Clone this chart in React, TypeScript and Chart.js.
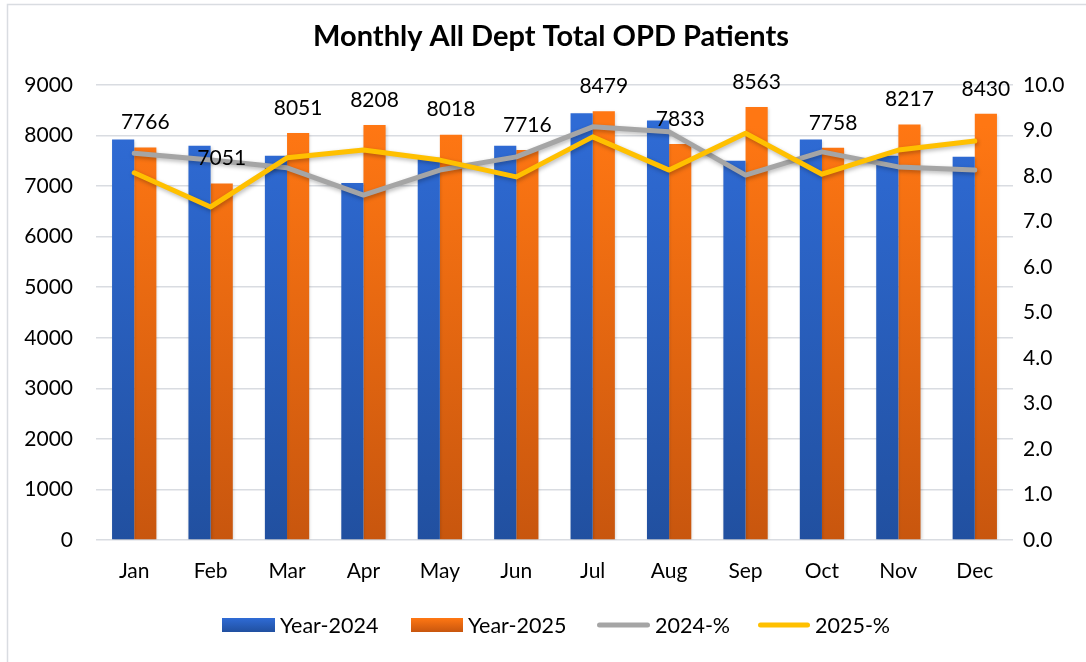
import React, { useEffect, useRef } from "react";
import { Chart, registerables } from "chart.js";

Chart.register(...registerables);

const categories = ["Jan", "Feb", "Mar", "Apr", "May", "Jun", "Jul", "Aug", "Sep", "Oct", "Nov", "Dec"];
const opd2024 = [7920, 7800, 7600, 7060, 7560, 7800, 8440, 8300, 7500, 7920, 7600, 7580];
const opd2025 = [7766, 7051, 8051, 8208, 8018, 7716, 8479, 7833, 8563, 7758, 8217, 8430];
const pct2024 = [8.5, 8.35, 8.18, 7.58, 8.13, 8.42, 9.08, 8.97, 8.02, 8.53, 8.2, 8.13];
const pct2025 = [8.07, 7.32, 8.4, 8.57, 8.35, 7.98, 8.86, 8.13, 8.94, 8.04, 8.57, 8.77];
const legendLabels = ["Year-2024", "Year-2025", "2024-%", "2025-%"];
const titleText = "Monthly All Dept Total OPD Patients";

const FONT = "Lato, 'Open Sans', sans-serif";

function grad(ctx: any, top: string, bottom: string) {
  const chart = ctx.chart;
  const a = chart.chartArea;
  if (!a) return top;
  const g = chart.ctx.createLinearGradient(0, a.top + 40, 0, a.bottom);
  g.addColorStop(0, top);
  g.addColorStop(1, bottom);
  return g;
}

const decorPlugin = {
  id: "decor",
  beforeDraw(chart: any) {
    const c = chart.ctx;
    c.save();
    c.fillStyle = "#ffffff";
    c.fillRect(0, 0, chart.width, chart.height);
    c.strokeStyle = "#D9DCE1";
    c.lineWidth = 1.5;
    c.strokeRect(7.5, 4.5, chart.width + 20, chart.height + 20);
    c.restore();
  },
  beforeDatasetDraw(chart: any, args: any) {
    const c = chart.ctx;
    c.save();
    if (args.meta.type === "line") {
      c.shadowColor = "rgba(0,0,0,0.28)";
      c.shadowBlur = 4;
      c.shadowOffsetX = 1;
      c.shadowOffsetY = 2;
    } else {
      c.shadowColor = "rgba(0,0,0,0.18)";
      c.shadowBlur = 3;
      c.shadowOffsetX = 1;
      c.shadowOffsetY = 1;
    }
  },
  afterDatasetDraw(chart: any) {
    chart.ctx.restore();
  },
  afterDraw(chart: any) {
    const c = chart.ctx;
    c.save();
    // title
    c.fillStyle = "#000";
    c.font = `bold 29px ${FONT}`;
    c.textAlign = "center";
    c.textBaseline = "middle";
    c.fillText(titleText, 551, 37);

    // data labels above orange bars
    const meta = chart.getDatasetMeta(1);
    c.font = `21px ${FONT}`;
    c.fillStyle = "#000";
    meta.data.forEach((bar: any, i: number) => {
      c.fillText(String(opd2025[i]), bar.x, bar.y - 25);
    });

    // legend
    const y = 625;
    c.textAlign = "left";
    c.font = `21.5px ${FONT}`;
    const items = [
      { x: 222, w: 53, tx: 280, kind: "bar", top: "#2F6BD5", bottom: "#2150A0" },
      { x: 411, w: 52, tx: 468, kind: "bar", top: "#FF7713", bottom: "#C8560E" },
      { x: 597, w: 53, tx: 655, kind: "line", color: "#A5A5A5" },
      { x: 758, w: 52, tx: 815, kind: "line", color: "#FFC000" },
    ];
    items.forEach((it: any, i: number) => {
      if (it.kind === "bar") {
        const g = c.createLinearGradient(0, y - 7, 0, y + 7);
        g.addColorStop(0, it.top);
        g.addColorStop(1, it.bottom);
        c.fillStyle = g;
        c.fillRect(it.x, y - 7, it.w, 14);
      } else {
        c.strokeStyle = it.color;
        c.lineWidth = 5;
        c.lineCap = "round";
        c.beginPath();
        c.moveTo(it.x + 2.5, y);
        c.lineTo(it.x + it.w - 2.5, y);
        c.stroke();
      }
      c.fillStyle = "#000";
      c.fillText(legendLabels[i], it.tx, y + 1);
    });
    c.restore();
  },
};

export default function App() {
  const ref = useRef<HTMLCanvasElement | null>(null);
  useEffect(() => {
    document.body.style.margin = "0";
    const canvas = ref.current!;
    const chart = new Chart(canvas, {
      type: "bar",
      data: {
        labels: categories,
        datasets: [
          {
            type: "bar",
            label: legendLabels[0],
            data: opd2024,
            backgroundColor: (ctx: any) => grad(ctx, "#2F6BD5", "#2150A0"),
            categoryPercentage: 0.58,
            barPercentage: 1.0,
            yAxisID: "y",
            order: 3,
          },
          {
            type: "bar",
            label: legendLabels[1],
            data: opd2025,
            backgroundColor: (ctx: any) => grad(ctx, "#FF7713", "#C8560E"),
            categoryPercentage: 0.58,
            barPercentage: 1.0,
            yAxisID: "y",
            order: 4,
          },
          {
            type: "line",
            label: legendLabels[2],
            data: pct2024,
            borderColor: "#A5A5A5",
            borderWidth: 5,
            pointRadius: 0,
            tension: 0,
            borderCapStyle: "round",
            borderJoinStyle: "round",
            yAxisID: "y1",
            order: 2,
          },
          {
            type: "line",
            label: legendLabels[3],
            data: pct2025,
            borderColor: "#FFC000",
            borderWidth: 5,
            pointRadius: 0,
            tension: 0,
            borderCapStyle: "round",
            borderJoinStyle: "round",
            yAxisID: "y1",
            order: 1,
          },
        ],
      },
      options: {
        responsive: false,
        animation: false,
        layout: { padding: { top: 85, left: 0, right: 0, bottom: 0 } },
        plugins: {
          legend: { display: false },
          title: { display: false },
          tooltip: { enabled: false },
        },
        scales: {
          x: {
            offset: true,
            grid: { display: false, drawTicks: false },
            border: { display: false },
            ticks: { color: "#000", font: { family: FONT, size: 21 }, padding: 19 },
            afterFit: (s: any) => {
              s.height = 122;
            },
          },
          y: {
            position: "left",
            min: 0,
            max: 9000,
            ticks: {
              stepSize: 1000,
              color: "#000",
              font: { family: FONT, size: 21 },
              padding: 23,
              callback: (v: any) => String(v),
            },
            grid: { color: "#D9DCE1", lineWidth: 1.5, drawTicks: false },
            border: { display: false },
            afterFit: (s: any) => {
              s.width = 96;
            },
          },
          y1: {
            position: "right",
            min: 0,
            max: 10,
            ticks: {
              stepSize: 1,
              color: "#000",
              font: { family: FONT, size: 21 },
              padding: 10,
              callback: (v: any) => Number(v).toFixed(1),
            },
            grid: { display: false, drawTicks: false },
            border: { display: false },
            afterFit: (s: any) => {
              s.width = 73;
            },
          },
        },
      } as any,
      plugins: [decorPlugin],
    });
    return () => chart.destroy();
  }, []);
  return (
    <div style={{ position: "fixed", left: 0, top: 0, width: 1086, height: 662 }}>
      <canvas ref={ref} width={1086} height={662} style={{ display: "block" }} />
    </div>
  );
}
